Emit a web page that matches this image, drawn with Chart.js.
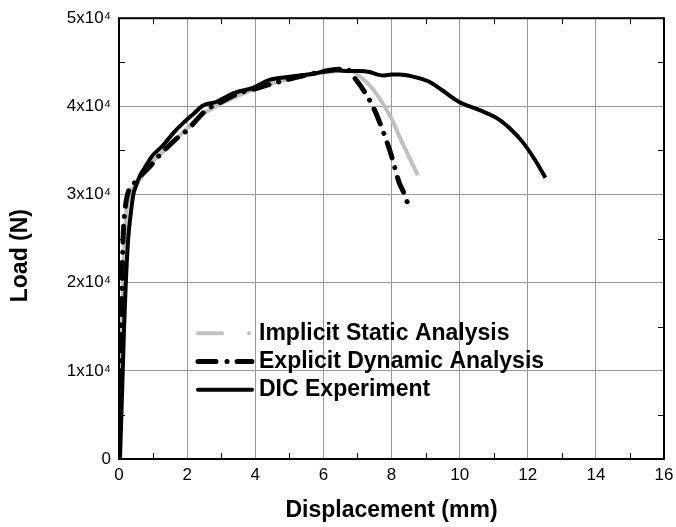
<!DOCTYPE html>
<html>
<head>
<meta charset="utf-8">
<script src="https://cdn.jsdelivr.net/npm/chart.js@4/dist/chart.umd.min.js"></script>
<style>
  body { margin: 0; background: #fff; }
  #wrap { width: 676px; height: 527px; }
</style>
</head>
<body>
<div id="wrap"><canvas id="loadchart" width="676" height="527"></canvas></div>
<script>
// displacement (mm) / load (N)
const dispImplicit = [0, 0.03, 0.06, 0.09, 0.12, 0.16, 0.22, 0.30, 0.50, 0.80, 1.20, 1.60, 2.00, 2.50, 3.00, 3.50, 4.00, 4.50, 5.00, 5.50, 6.00, 6.50, 6.80, 7.10, 7.40, 7.70, 8.00, 8.30, 8.50, 8.77];
const loadImplicit = [0, 5000, 10000, 15000, 20000, 25000, 28000, 30000, 31000, 33000, 34500, 36000, 37500, 39200, 40300, 41200, 42000, 42600, 43100, 43500, 43800, 44000, 44000, 43300, 42200, 40600, 38600, 36000, 34400, 32200];

const dispExplicit = [0, 0.02, 0.05, 0.07, 0.09, 0.12, 0.17, 0.25, 0.50, 0.96, 1.20, 1.74, 2.00, 2.57, 3.00, 3.54, 4.00, 4.71, 5.20, 5.79, 6.20, 6.50, 6.70, 6.86, 7.20, 7.50, 7.75, 7.99, 8.23, 8.35, 8.55];
const loadExplicit = [0, 5000, 10000, 15000, 20000, 25000, 28000, 30000, 31500, 33400, 34500, 36500, 37300, 39600, 40500, 41500, 42000, 42800, 43300, 43800, 44100, 44200, 44200, 43500, 41700, 39600, 37200, 34500, 31300, 30300, 28200];

const dispDIC = [0.03, 0.07, 0.11, 0.15, 0.20, 0.27, 0.35, 0.42, 0.50, 0.61, 0.75, 0.96, 1.30, 1.60, 1.88, 2.20, 2.47, 2.86, 3.20, 3.45, 3.93, 4.42, 4.90, 5.30, 5.70, 6.08, 6.40, 6.76, 7.05, 7.35, 7.60, 7.79, 8.00, 8.23, 8.60, 9.11, 9.50, 9.99, 10.57, 11.16, 11.50, 11.84, 12.20, 12.52];
const loadDIC = [0, 5000, 10000, 15000, 20000, 25000, 28000, 30000, 31000, 32100, 33000, 34300, 35600, 37000, 38100, 39200, 40100, 40500, 41200, 41600, 42100, 43000, 43300, 43500, 43700, 44000, 44100, 44000, 44000, 43900, 43600, 43500, 43600, 43600, 43400, 42800, 41800, 40500, 39600, 38500, 37400, 36000, 34000, 31900];

const seriesNames = ["Implicit Static Analysis", "Explicit Dynamic Analysis", "DIC Experiment"];
const minorX = [1, 3, 5, 7, 9, 11, 13, 15];
const minorY = [5000, 15000, 25000, 35000, 45000];

const FONT = "'Liberation Sans', Arial, sans-serif";

function pts(xs, ys) {
  return xs.map((x, i) => ({ x: x, y: ys[i] }));
}

// box round the plot + small inside ticks on all four sides
const framePlugin = {
  id: "frame",
  afterDatasetsDraw(chart) {
    const ctx = chart.ctx, a = chart.chartArea;
    const sx = chart.scales.x, sy = chart.scales.y;
    ctx.save();
    ctx.strokeStyle = "#000";
    ctx.lineWidth = 1;
    ctx.beginPath();
    minorX.forEach((v) => {
      const px = Math.round(sx.getPixelForValue(v)) + 0.5;
      ctx.moveTo(px, a.bottom); ctx.lineTo(px, a.bottom - 6);
      ctx.moveTo(px, a.top); ctx.lineTo(px, a.top + 6);
    });
    minorY.forEach((v) => {
      const py = Math.round(sy.getPixelForValue(v)) + 0.5;
      ctx.moveTo(a.left, py); ctx.lineTo(a.left + 6, py);
      ctx.moveTo(a.right, py); ctx.lineTo(a.right - 6, py);
    });
    ctx.stroke();
    ctx.lineWidth = 2;
    ctx.strokeRect(a.left, a.top, a.right - a.left, a.bottom - a.top);
    ctx.restore();
  },
};

// legend drawn inside the plot, and the y title (sits a bit below centre in the original)
const legendPlugin = {
  id: "innerLegend",
  afterDraw(chart) {
    const ctx = chart.ctx, a = chart.chartArea;
    const x0 = a.left + 79, x1 = a.left + 133, tx = a.left + 140;
    let y = a.top + 315;
    ctx.save();
    chart.data.datasets.forEach((ds) => {
      ctx.beginPath();
      ctx.strokeStyle = ds.borderColor;
      ctx.lineWidth = ds.borderWidth;
      ctx.lineCap = "round";
      ctx.setLineDash(ds.legendDash || []);
      ctx.moveTo(x0, y);
      ctx.lineTo(x1, y);
      ctx.stroke();
      ctx.setLineDash([]);
      ctx.fillStyle = "#000";
      ctx.font = "bold 23px " + FONT;
      ctx.textBaseline = "middle";
      ctx.fillText(ds.label, tx, y);
      y += 28.3;
    });

    ctx.translate(21, (a.top + a.bottom) / 2 + 17);
    ctx.rotate(-Math.PI / 2);
    ctx.textAlign = "center";
    ctx.textBaseline = "middle";
    ctx.font = "bold 23px " + FONT;
    ctx.fillText("Load (N)", 0, 0);
    ctx.restore();
  },
};

const config = {
  type: "line",
  data: {
    datasets: [
      {
        label: seriesNames[0],
        data: pts(dispImplicit, loadImplicit),
        borderColor: "#c0c0c0",
        borderWidth: 4,
        legendDash: [24, 27, 0.1, 100],
        order: 2,
      },
      {
        label: seriesNames[1],
        data: pts(dispExplicit, loadExplicit),
        borderColor: "#000000",
        borderWidth: 5,
        borderDash: [16, 10, 0.1, 10],
        borderCapStyle: "round",
        legendDash: [18, 11, 0.1, 10],
        order: 1,
      },
      {
        label: seriesNames[2],
        data: pts(dispDIC, loadDIC),
        borderColor: "#000000",
        borderWidth: 4,
        order: 0,
      },
    ],
  },
  options: {
    responsive: false,
    animation: false,
    layout: { padding: { top: 16, right: 12, left: 0, bottom: 0 } },
    elements: {
      point: { radius: 0 },
      line: { cubicInterpolationMode: "monotone", fill: false },
    },
    plugins: {
      legend: { display: false },
      tooltip: { enabled: false },
    },
    scales: {
      x: {
        type: "linear",
        min: 0,
        max: 16,
        ticks: {
          stepSize: 2,
          color: "#000",
          padding: 6,
          font: { family: FONT, size: 17 },
        },
        grid: { color: "#9a9a9a", lineWidth: 1, drawTicks: false },
        border: { display: false },
        title: {
          display: true,
          text: "Displacement (mm)",
          color: "#000",
          padding: { top: 0, bottom: 3 },
          font: { family: FONT, size: 23, weight: "bold" },
        },
        afterFit(scale) {
          scale.height = 68;
          scale.paddingRight = 0;
        },
      },
      y: {
        type: "linear",
        min: 0,
        max: 50000,
        ticks: {
          stepSize: 10000,
          color: "#000",
          padding: 8,
          font: { family: FONT, size: 17 },
          callback: (v) => (v === 0 ? "0" : v / 10000 + "x10\u2074"),
        },
        grid: { color: "#9a9a9a", lineWidth: 1, drawTicks: false },
        border: { display: false },
        title: { display: false },
        afterFit(scale) { scale.width = 119; },
      },
    },
  },
  plugins: [framePlugin, legendPlugin],
};

const load_chart = new Chart(document.getElementById("loadchart"), config);
</script>
</body>
</html>
